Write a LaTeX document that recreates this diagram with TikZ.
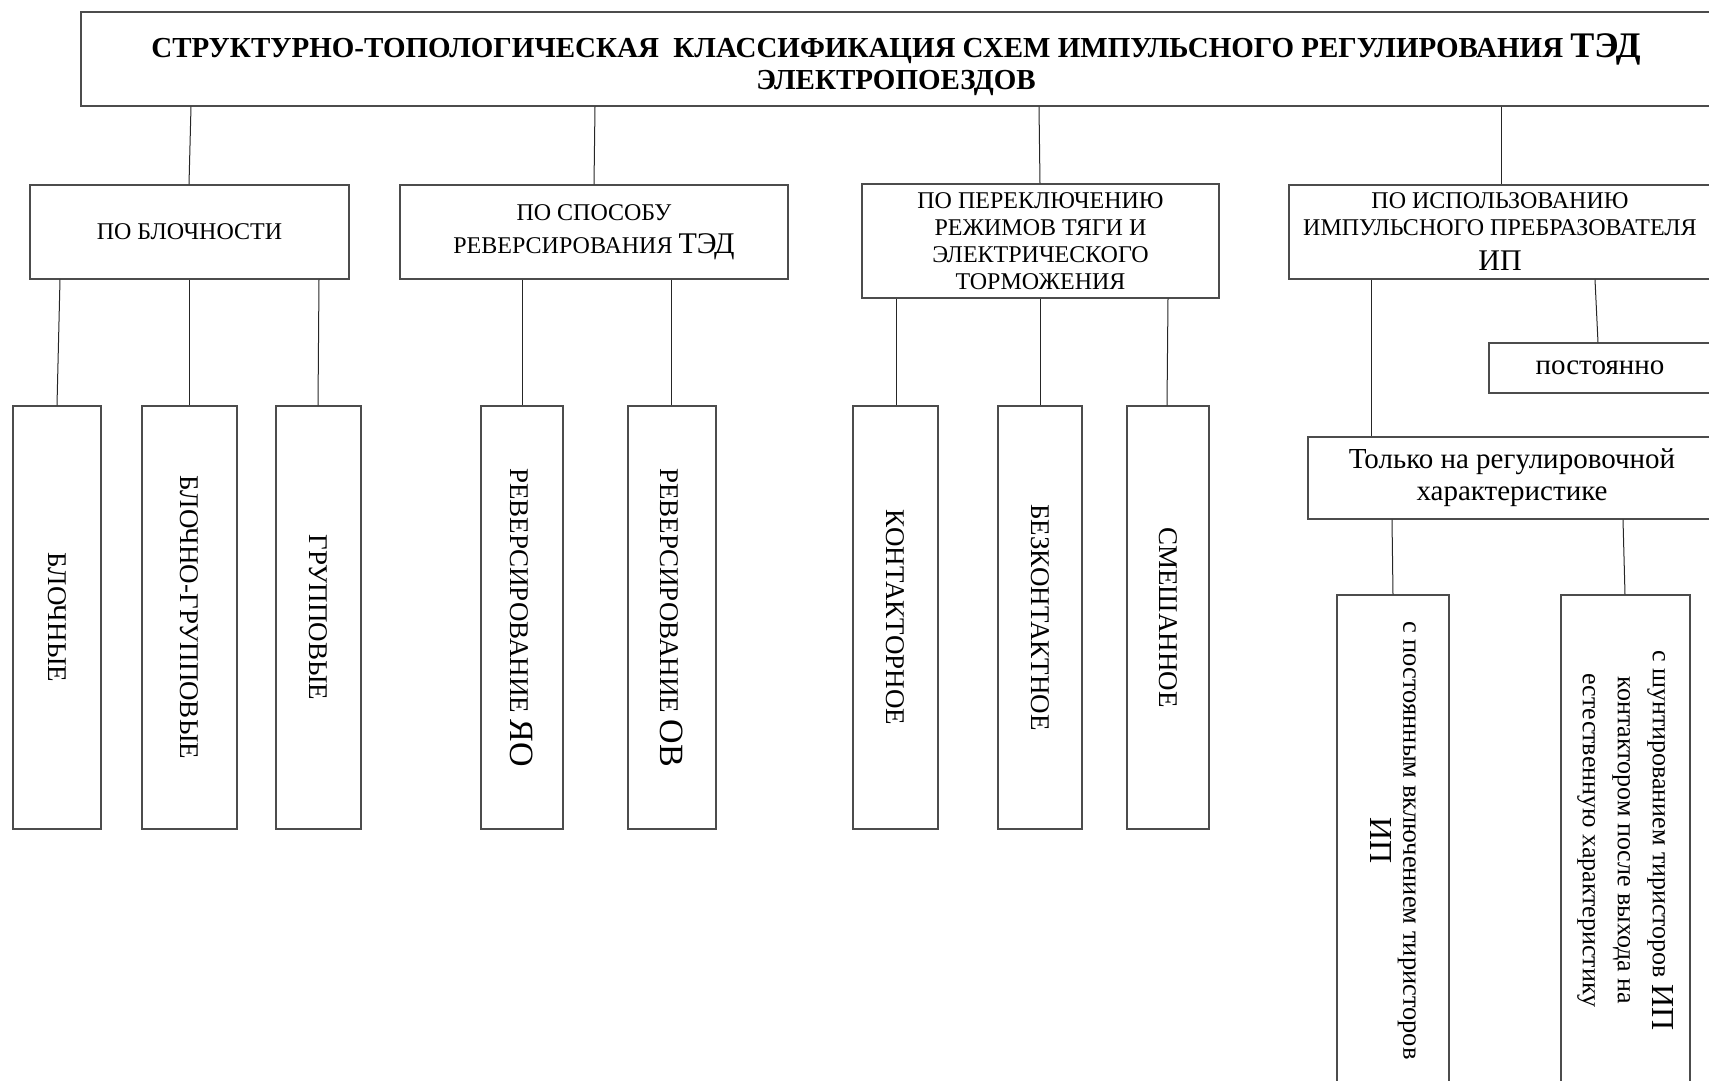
\documentclass[tikz,border=0pt]{standalone}
\usepackage{fontspec}
\setmainfont{Liberation Serif}
\begin{document}
\begin{tikzpicture}[x=1pt,y=-1pt,
  box/.style={draw=black!70, line width=1.2pt, rectangle, inner sep=0pt, anchor=center, align=center, text=black},
  conn/.style={draw=black!85, line width=1pt},
  vtext/.style={inner sep=0pt, align=center, rotate=-90, text=black},
  lvtwo/.style={font=\fontsize{24}{27}\selectfont},
  lvthree/.style={font=\fontsize{27}{33}\selectfont}]
\useasboundingbox (0,0) rectangle (1709,1080);
\clip (0,0) rectangle (1709,1080);
% title
\node[box, minimum width=1630pt, minimum height=94pt] (title) at (896,59) {};
\node[inner sep=0pt, align=center, font=\bfseries\fontsize{29}{32}\selectfont] (ttl) at ([yshift=-6pt]title.center)
  {СТРУКТУРНО-ТОПОЛОГИЧЕСКАЯ\ \ КЛАССИФИКАЦИЯ СХЕМ ИМПУЛЬСНОГО РЕГУЛИРОВАНИЯ {\fontsize{36}{32}\selectfont ТЭД}\\ЭЛЕКТРОПОЕЗДОВ};
% level 2
\node[box, lvtwo, minimum width=319pt, minimum height=94pt] (A) at (189.5,232) {ПО БЛОЧНОСТИ};
\node[box, lvtwo, minimum width=388pt, minimum height=94pt] (B) at (594,232) {ПО СПОСОБУ\\[6pt]РЕВЕРСИРОВАНИЯ {\fontsize{30}{30}\selectfont ТЭД}};
\node[box, lvtwo, minimum width=357pt, minimum height=114pt] (C) at (1040.5,241) {ПО ПЕРЕКЛЮЧЕНИЮ\\РЕЖИМОВ ТЯГИ И\\ЭЛЕКТРИЧЕСКОГО\\ТОРМОЖЕНИЯ};
\node[box, lvtwo, minimum width=422pt, minimum height=94pt] (D) at (1500,232) {ПО ИСПОЛЬЗОВАНИЮ\\ИМПУЛЬСНОГО ПРЕБРАЗОВАТЕЛЯ\\[8pt]{\fontsize{30}{30}\selectfont ИП}};
% right branch
\node[box, font=\fontsize{29}{32}\selectfont, minimum width=222pt, minimum height=50pt] (P) at (1600,368) {постоянно};
\node[box, font=\fontsize{29}{32}\selectfont, minimum width=408pt, minimum height=82pt] (T) at (1512,478) {Только на регулировочной\\характеристике};
% level 3 boxes
\node[box, minimum width=88pt, minimum height=423pt] (A1) at (57,617.5) {};
\node[box, minimum width=95pt, minimum height=423pt] (A2) at (189.5,617.5) {};
\node[box, minimum width=85pt, minimum height=423pt] (A3) at (318.5,617.5) {};
\node[box, minimum width=82pt, minimum height=423pt] (B1) at (522,617.5) {};
\node[box, minimum width=88pt, minimum height=423pt] (B2) at (672,617.5) {};
\node[box, minimum width=85pt, minimum height=423pt] (C1) at (895.5,617.5) {};
\node[box, minimum width=84pt, minimum height=423pt] (C2) at (1040,617.5) {};
\node[box, minimum width=82pt, minimum height=423pt] (C3) at (1168,617.5) {};
\node[box, minimum width=112pt, minimum height=491pt] (E1) at (1393,840.5) {};
\node[box, minimum width=129pt, minimum height=491pt] (E2) at (1625.5,840.5) {};
% rotated texts
\node[vtext, lvthree] (tA1) at (A1.center) {БЛОЧНЫЕ};
\node[vtext, lvthree] (tA2) at (A2.center) {БЛОЧНО-ГРУППОВЫЕ};
\node[vtext, lvthree] (tA3) at (A3.center) {ГРУППОВЫЕ};
\node[vtext, lvthree] (tB1) at (B1.center) {РЕВЕРСИРОВАНИЕ {\fontsize{34}{34}\selectfont ЯО}};
\node[vtext, lvthree] (tB2) at (B2.center) {РЕВЕРСИРОВАНИЕ {\fontsize{34}{34}\selectfont ОВ}};
\node[vtext, lvthree] (tC1) at (C1.center) {КОНТАКТОРНОЕ};
\node[vtext, lvthree] (tC2) at (C2.center) {БЕЗКОНТАКТНОЕ};
\node[vtext, lvthree] (tC3) at (C3.center) {СМЕШАННОЕ};
\node[vtext, font=\fontsize{26.5}{33}\selectfont] (tE1) at (E1.center) {с постоянным включением тиристоров\\{\fontsize{32}{33}\selectfont ИП}};
\node[vtext, font=\fontsize{26}{35}\selectfont] (tE2) at (E2.center) {с шунтированием тиристоров {\fontsize{32}{33}\selectfont ИП}\\контактором после выхода на\\естественную характеристику};
% connectors
\draw[conn] (title.south -| 191,0) -- (A.north -| 189,0);
\draw[conn] (title.south -| 595,0) -- (B.north -| 594,0);
\draw[conn] (title.south -| 1039,0) -- (C.north -| 1040,0);
\draw[conn] (title.south -| 1501,0) -- (D.north -| 1501,0);
\draw[conn] (A.south -| 60,0) -- (A1.north -| 57,0);
\draw[conn] (A.south -| 189,0) -- (A2.north -| 189,0);
\draw[conn] (A.south -| 319,0) -- (A3.north -| 318,0);
\draw[conn] (B.south -| 522,0) -- (B1.north -| 522,0);
\draw[conn] (B.south -| 671,0) -- (B2.north -| 671,0);
\draw[conn] (C.south -| 896,0) -- (C1.north -| 896,0);
\draw[conn] (C.south -| 1040,0) -- (C2.north -| 1040,0);
\draw[conn] (C.south -| 1168,0) -- (C3.north -| 1167,0);
\draw[conn] (D.south -| 1595,0) -- (P.north -| 1598,0);
\draw[conn] (D.south -| 1371,0) -- (T.north -| 1371,0);
\draw[conn] (T.south -| 1392,0) -- (E1.north -| 1393,0);
\draw[conn] (T.south -| 1623,0) -- (E2.north -| 1625,0);
\end{tikzpicture}
\end{document}
